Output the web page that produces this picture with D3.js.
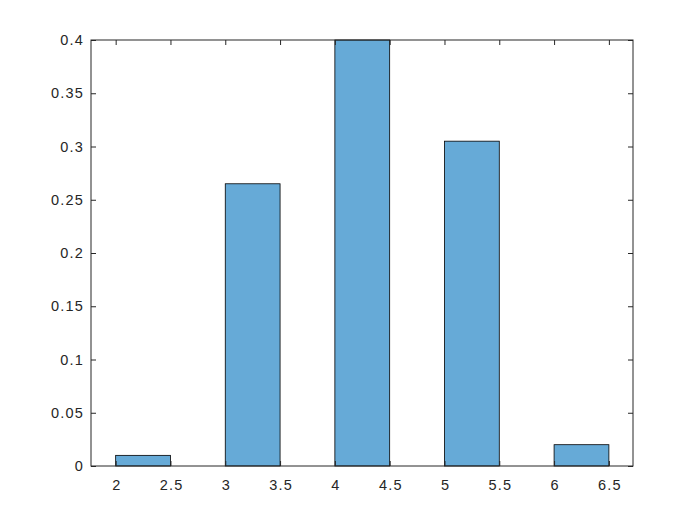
<!DOCTYPE html>
<html><head><meta charset="utf-8">
<script src="https://cdn.jsdelivr.net/npm/d3@7"></script>
<style>body{margin:0;background:#fff}svg{display:block}text{font-family:"Liberation Sans",Arial,sans-serif}</style>
</head><body>
<svg id="c" width="700" height="525"></svg>
<script>
const binStarts = [2, 3, 4, 5, 6];
const binWidth = 0.5;
const values = [0.01, 0.265, 0.4, 0.305, 0.02];
const xTicks = [2, 2.5, 3, 3.5, 4, 4.5, 5, 5.5, 6, 6.5];
const yTicks = [0, 0.05, 0.1, 0.15, 0.2, 0.25, 0.3, 0.35, 0.4];

const L = 91, R = 633, T = 40, B = 466;
const svg = d3.select("#c");
svg.append("rect").attr("width",700).attr("height",525).attr("fill","#fff");
const x = d3.scaleLinear().domain([1.775, 6.72]).range([L, R]);
const y = d3.scaleLinear().domain([0, 0.4]).range([B, T]);

svg.append("g").selectAll("rect").data(binStarts).join("rect")
  .attr("x", d => x(d)).attr("width", d => x(d + binWidth) - x(d))
  .attr("y", (d,i) => y(values[i])).attr("height", (d,i) => y(0) - y(values[i]))
  .attr("fill", "#66aad7").attr("stroke", "#000").attr("stroke-width", 0.8);

const fmt = d => String(d);
const tickStyle = g => { g.select(".domain").remove(); g.selectAll("line").attr("stroke","#262626");
  g.selectAll("text").attr("fill","#262626").style("font-size","14.5px").style("letter-spacing","1.2px"); };
svg.append("g").attr("transform",`translate(0,${B})`)
  .call(d3.axisBottom(x).tickValues(xTicks).tickFormat(fmt).tickSizeInner(-5).tickSizeOuter(0).tickPadding(14))
  .call(tickStyle)
  .call(g => g.selectAll("text").attr("dx","0.6px"));
svg.append("g").attr("transform",`translate(0,${T})`)
  .call(d3.axisTop(x).tickValues(xTicks).tickFormat("").tickSizeInner(-5).tickSizeOuter(0))
  .call(tickStyle);
svg.append("g").attr("transform",`translate(${L},0)`)
  .call(d3.axisLeft(y).tickValues(yTicks).tickFormat(fmt).tickSizeInner(-5).tickSizeOuter(0).tickPadding(7))
  .call(tickStyle);
svg.append("g").attr("transform",`translate(${R},0)`)
  .call(d3.axisRight(y).tickValues(yTicks).tickFormat("").tickSizeInner(-5).tickSizeOuter(0))
  .call(tickStyle);
svg.append("rect").attr("x",L).attr("y",T).attr("width",R-L).attr("height",B-T)
  .attr("fill","none").attr("stroke","#262626").attr("stroke-width",1);
</script>
</body></html>
